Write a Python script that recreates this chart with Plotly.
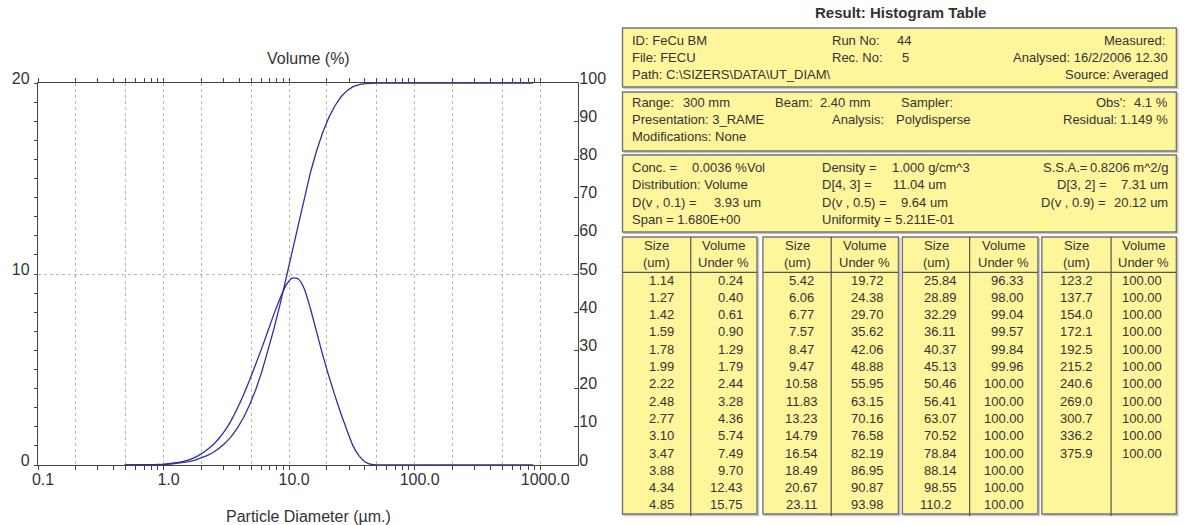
import plotly.graph_objects as go

# ---------------------------------------------------------------- data
# Histogram table: upper edge of each size band (um) and cumulative volume under (%)
table_size_um = [
    1.14, 1.27, 1.42, 1.59, 1.78, 1.99, 2.22, 2.48, 2.77, 3.10, 3.47, 3.88, 4.34, 4.85,
    5.42, 6.06, 6.77, 7.57, 8.47, 9.47, 10.58, 11.83, 13.23, 14.79, 16.54, 18.49, 20.67, 23.11,
    25.84, 28.89, 32.29, 36.11, 40.37, 45.13, 50.46, 56.41, 63.07, 70.52, 78.84, 88.14, 98.55, 110.2,
    123.2, 137.7, 154.0, 172.1, 192.5, 215.2, 240.6, 269.0, 300.7, 336.2, 375.9,
]
table_under_pct = [
    0.24, 0.40, 0.61, 0.90, 1.29, 1.79, 2.44, 3.28, 4.36, 5.74, 7.49, 9.70, 12.43, 15.75,
    19.72, 24.38, 29.70, 35.62, 42.06, 48.88, 55.95, 63.15, 70.16, 76.58, 82.19, 86.95, 90.87, 93.98,
    96.33, 98.00, 99.04, 99.57, 99.84, 99.96, 100.00, 100.00, 100.00, 100.00, 100.00, 100.00, 100.00, 100.00,
    100.00, 100.00, 100.00, 100.00, 100.00, 100.00, 100.00, 100.00, 100.00, 100.00, 100.00,
]

# bands outside the tabulated range (drawn in the plot only)
low_size_um = [0.49, 0.583, 0.652, 0.729, 0.815, 0.91, 1.02]
low_under_pct = [0.0, 0.0, 0.0, 0.01, 0.03, 0.07, 0.14]
high_size_um = [420.2, 469.8, 525.3, 587.3, 656.6, 734.1, 820.7, 880.0]
high_under_pct = [100.0, 100.0, 100.0, 100.0, 100.0, 100.0, 100.0, 100.0]

# volume frequency (%) on the same band grid: low bands, table bands, high bands
volume_pct = [
    0.0, 0.0, 0.0, 0.01, 0.02, 0.03, 0.05,
    0.08, 0.12, 0.18, 0.27, 0.40, 0.58, 0.80, 1.06, 1.40, 1.82, 2.35, 2.98, 3.68, 4.45,
    5.28, 6.12, 7.00, 7.90, 8.72, 9.42, 9.78, 9.74, 9.22, 8.18, 6.98, 5.78, 4.68, 3.66,
    2.70, 1.82, 1.00, 0.48, 0.16, 0.03, 0.0, 0.0, 0.0, 0.0, 0.0, 0.0, 0.0, 0.0,
    0.0, 0.0, 0.0, 0.0, 0.0, 0.0, 0.0, 0.0, 0.0, 0.0, 0.0,
    0.0, 0.0, 0.0, 0.0, 0.0, 0.0, 0.0, 0.0,
]

curve_size_um = low_size_um + table_size_um + high_size_um
curve_under_pct = low_under_pct + table_under_pct + high_under_pct

x_label_vals = [0.1, 1, 10, 100, 1000]
x_label_text = ["0.1", "1.0", "10.0", "100.0", "1000.0"]
x_grid_vals = [0.2, 0.5, 2, 5, 20, 50, 200, 500]

# report header blocks: (row, x_px, text, anchor)
info_rows_1 = [
    (0, 631, "ID: FeCu BM", "left"), (0, 833, "Run No:", "left"), (0, 899, "44", "left"),
    (0, 1174, "Measured:", "right"),
    (1, 631, "File: FECU", "left"), (1, 833, "Rec. No:", "left"), (1, 904, "5", "left"),
    (1, 1177, "Analysed: 16/2/2006 12.30", "right"),
    (2, 631, "Path: C:\\SIZERS\\DATA\\UT_DIAM\\", "left"),
    (2, 1177, "Source: Averaged", "right"),
]
info_rows_2 = [
    (0, 631, "Range:", "left"), (0, 682, "300 mm", "left"),
    (0, 775, "Beam:", "left"), (0, 821, "2.40 mm", "left"),
    (0, 903, "Sampler:", "left"),
    (0, 1100, "Obs':", "left"), (0, 1177, "4.1 %", "right"),
    (1, 631, "Presentation: 3_RAME", "left"),
    (1, 833, "Analysis:", "left"), (1, 898, "Polydisperse", "left"),
    (1, 1066, "Residual:", "left"), (1, 1177, "1.149 %", "right"),
    (2, 631, "Modifications: None", "left"),
]
info_rows_3 = [
    (0, 631, "Conc. =", "left"), (0, 691, "0.0036 %Vol", "left"),
    (0, 823, "Density =", "left"), (0, 893, "1.000 g/cm^3", "left"),
    (0, 1046, "S.S.A.=", "left"), (0, 1177, "0.8206 m^2/g", "right"),
    (1, 631, "Distribution: Volume", "left"),
    (1, 823, "D[4, 3] =", "left"), (1, 894, "11.04 um", "left"),
    (1, 1060, "D[3, 2] =", "left"), (1, 1177, "7.31 um", "right"),
    (2, 631, "D(v , 0.1) =", "left"), (2, 713, "3.93 um", "left"),
    (2, 823, "D(v , 0.5) =", "left"), (2, 903, "9.64 um", "left"),
    (2, 1044, "D(v , 0.9) =", "left"), (2, 1177, "20.12 um", "right"),
    (3, 631, "Span = 1.680E+00", "left"),
    (3, 823, "Uniformity = 5.211E-01", "left"),
]

# ---------------------------------------------------------------- geometry
W, H = 1186, 525
ML, MR, MT, MB = 32, 608, 83, 60
PW, PH = W - ML - MR, H - MT - MB


def px(x):
    return (x - ML) / PW


def py(y):
    return (H - MB - y) / PH


FONT = "Arial, 'Liberation Sans', sans-serif"
TXT = "#333333"
AX = "#444444"
GRID = "#bdb5b5"
CURVE = "#2f2f9b"
YELLOW = "#fff59b"
EDGE = "#767676"

fig = go.Figure()

fig.add_trace(go.Scatter(
    x=curve_size_um, y=volume_pct, mode="lines",
    line=dict(color=CURVE, width=1.3, shape="spline", smoothing=0.6),
    yaxis="y", showlegend=False,
))
fig.add_trace(go.Scatter(
    x=curve_size_um, y=curve_under_pct, mode="lines",
    line=dict(color=CURVE, width=1.3), yaxis="y2", showlegend=False,
))

major_vals = sorted(x_label_vals + x_grid_vals)
major_text = [x_label_text[x_label_vals.index(v)] if v in x_label_vals else "" for v in major_vals]
minor_vals = []
for dec in [0.1, 1, 10, 100]:
    for m in [3, 4, 6, 7, 8, 9]:
        minor_vals.append(m * dec)

fig.update_layout(
    width=W, height=H,
    margin=dict(l=ML, r=MR, t=MT, b=MB),
    paper_bgcolor="white", plot_bgcolor="white",
    font=dict(family=FONT, color=TXT),
    xaxis=dict(
        type="log", range=[-1, 3.30103],
        tickmode="array", tickvals=major_vals, ticktext=major_text,
        ticks="outside", ticklen=4, tickcolor=AX, tickwidth=1,
        showgrid=True, gridcolor=GRID, griddash="dot", gridwidth=1,
        showline=True, linecolor=AX, linewidth=1.3, mirror="allticks",
        tickfont=dict(size=16, color=TXT), ticklabelshift=5, ticklabelstandoff=-4,
        minor=dict(tickvals=minor_vals, ticks="outside", ticklen=4,
                   tickcolor=AX, showgrid=False),
        zeroline=False,
    ),
    yaxis=dict(
        range=[0, 20], tickmode="array", tickvals=[0, 10, 20],
        ticks="outside", ticklen=3, tickcolor=AX,
        showgrid=True, gridcolor=GRID, griddash="dot",
        showline=True, linecolor=AX, linewidth=1.3,
        tickfont=dict(size=16, color=TXT), ticklabelshift=-5, ticklabelstandoff=1,
        minor=dict(dtick=1, ticks="outside", ticklen=3, tickcolor=AX, showgrid=False),
        zeroline=False,
    ),
    yaxis2=dict(
        range=[0, 100], overlaying="y", side="right",
        tickmode="array", tickvals=list(range(0, 101, 10)),
        ticks="inside", ticklen=4, tickcolor=AX,
        showgrid=False, showline=True, linecolor=AX, linewidth=1.3,
        tickfont=dict(size=16, color=TXT), ticklabelshift=-5, ticklabelstandoff=-3,
        zeroline=False,
    ),
)

ann = []
shapes = []


def text(x, y, s, anchor="left", size=13, bold=False, color=TXT):
    ann.append(dict(
        x=px(x), y=py(y), xref="paper", yref="paper", text=f"<b>{s}</b>" if bold else s,
        showarrow=False, xanchor=anchor, yanchor="middle",
        font=dict(family=FONT, size=size, color=color),
    ))


def box(x0, y0, x1, y1):
    shapes.append(dict(type="rect", xref="paper", yref="paper", layer="below",
                       x0=px(x0 + 1.5), x1=px(x1 + 1.5), y0=py(y0 + 1.5), y1=py(y1 + 1.5),
                       line=dict(color="#c9c9c9", width=1.5), fillcolor="#c9c9c9"))
    shapes.append(dict(type="rect", xref="paper", yref="paper", layer="below",
                       x0=px(x0), x1=px(x1), y0=py(y0), y1=py(y1),
                       line=dict(color=EDGE, width=1.4), fillcolor=YELLOW))


def hline(x0, x1, y, color=EDGE, width=1.2):
    shapes.append(dict(type="line", xref="paper", yref="paper", layer="below",
                       x0=px(x0), x1=px(x1), y0=py(y), y1=py(y),
                       line=dict(color=color, width=width)))


def vline(x, y0, y1, color=EDGE, width=1.2):
    shapes.append(dict(type="line", xref="paper", yref="paper", layer="below",
                       x0=px(x), x1=px(x), y0=py(y0), y1=py(y1),
                       line=dict(color=color, width=width)))


# plot titles
text(305, 58, "Volume (%)", "center", size=16)
text(305, 516, "Particle Diameter (µm.)", "center", size=16)

# report title
text(904, 12, "Result: Histogram Table", "center", size=15, bold=True)

# info boxes
box(623, 28, 1183, 87)
box(623, 92, 1183, 151)
box(623, 155, 1183, 232)
for rows, y0 in [(info_rows_1, 40), (info_rows_2, 102.3), (info_rows_3, 167.6)]:
    for r, x, s, a in rows:
        text(x, y0 + r * 17.3, s, a)

# histogram table: four blocks of (size, volume under) columns
blocks = [(623, 692, 759), (765, 834, 902), (906, 974, 1043), (1047, 1117, 1183)]
TOP, RULE, BOTTOM = 237, 272.3, 514
ROW0, STEP = 280, 17.3
for b, (x0, xd, x1) in enumerate(blocks):
    box(x0, TOP, x1, BOTTOM)
    hline(x0, x1, RULE, color="#555555")
    vline(xd, TOP, BOTTOM + 2, color="#555555")
    cs = (x0 + xd) / 2
    cv = (xd + x1) / 2
    text(cs, 245.7, "Size", "center")
    text(cs, 262.7, "(um)", "center")
    text(cv, 245.7, "Volume", "center")
    text(cv, 262.7, "Under %", "center")
    sizes = table_size_um[b * 14:(b + 1) * 14]
    unders = table_under_pct[b * 14:(b + 1) * 14]
    for i, (s, u) in enumerate(zip(sizes, unders)):
        y = ROW0 + i * STEP
        if s < 100:
            text(cs + 4.5, y, f"{s:.2f}", "center")
        else:
            text(cs, y, f"{s:.1f}", "center")
        text(x1 - 12.5, y, f"{u:.2f}", "right")

fig.update_layout(annotations=ann, shapes=shapes)

fig.write_html("out.html")
